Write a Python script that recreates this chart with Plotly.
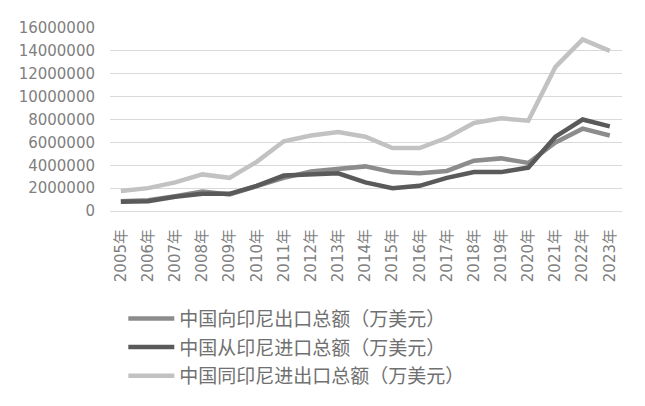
import plotly.graph_objects as go

years = [f"{y}年" for y in range(2005, 2024)]

export_vals = [850000, 950000, 1300000, 1700000, 1450000, 2200000, 2900000, 3450000,
               3700000, 3900000, 3400000, 3300000, 3500000, 4400000, 4600000, 4200000,
               6000000, 7200000, 6600000]
import_vals = [800000, 850000, 1250000, 1500000, 1500000, 2200000, 3100000, 3200000,
               3300000, 2500000, 2000000, 2200000, 2900000, 3400000, 3400000, 3800000,
               6500000, 8000000, 7400000]
total_vals = [1750000, 2000000, 2500000, 3200000, 2900000, 4300000, 6100000, 6600000,
              6900000, 6500000, 5500000, 5500000, 6400000, 7700000, 8100000, 7900000,
              12600000, 15000000, 14000000]

series_names = [
    "中国向印尼出口总额（万美元）",
    "中国从印尼进口总额（万美元）",
    "中国同印尼进出口总额（万美元）",
]

FONT = "DejaVu Sans, Noto Sans CJK SC"
CJK = "Noto Sans CJK SC"

fig = go.Figure()
for i, (name, vals, color) in enumerate(zip(series_names,
                                            [export_vals, import_vals, total_vals],
                                            ["#8c8c8c", "#5a5a5a", "#c2c2c2"])):
    fig.add_trace(go.Scatter(
        x=years, y=vals, mode="lines", name=name, legendgroup=f"g{i}",
        line=dict(color=color, width=4.5),
    ))

# page body has an 8px margin, so the figure is sized to the visible area
fig.update_layout(
    width=637, height=398,
    paper_bgcolor="white", plot_bgcolor="white",
    margin=dict(l=102, r=23, t=20, b=195, autoexpand=False),
    font=dict(family=FONT, color="#7f7f7f"),
    showlegend=True,
    legend=dict(
        orientation="v", x=0.026, xanchor="left", y=-0.484, yanchor="top",
        font=dict(family=CJK, size=19, color="#707070"), bgcolor="rgba(0,0,0,0)",
        tracegroupgap=1, traceorder="grouped", itemwidth=46,
    ),
    xaxis=dict(
        type="category", tickangle=-90, showgrid=False, showline=False,
        range=[-0.4, 18.45],
        tickfont=dict(size=15, color="#7f7f7f"), ticks="", ticklabelstandoff=14,
    ),
    yaxis=dict(
        range=[0, 16000000], dtick=2000000, tickformat="d",
        showgrid=True, gridcolor="#d9d9d9", gridwidth=1,
        zeroline=True, zerolinecolor="#d9d9d9", zerolinewidth=1,
        tickfont=dict(size=15, color="#7f7f7f"), ticklabelstandoff=14,
    ),
    shapes=[dict(
        type="rect", xref="paper", yref="paper",
        x0=(3 - 110) / 512, x1=(638 - 110) / 512,
        y0=(211 - 420) / 183, y1=(211 - 5) / 183,
        line=dict(color="#dedede", width=1), fillcolor="rgba(0,0,0,0)",
        layer="below",
    )],
)

fig.write_html("out.html")
